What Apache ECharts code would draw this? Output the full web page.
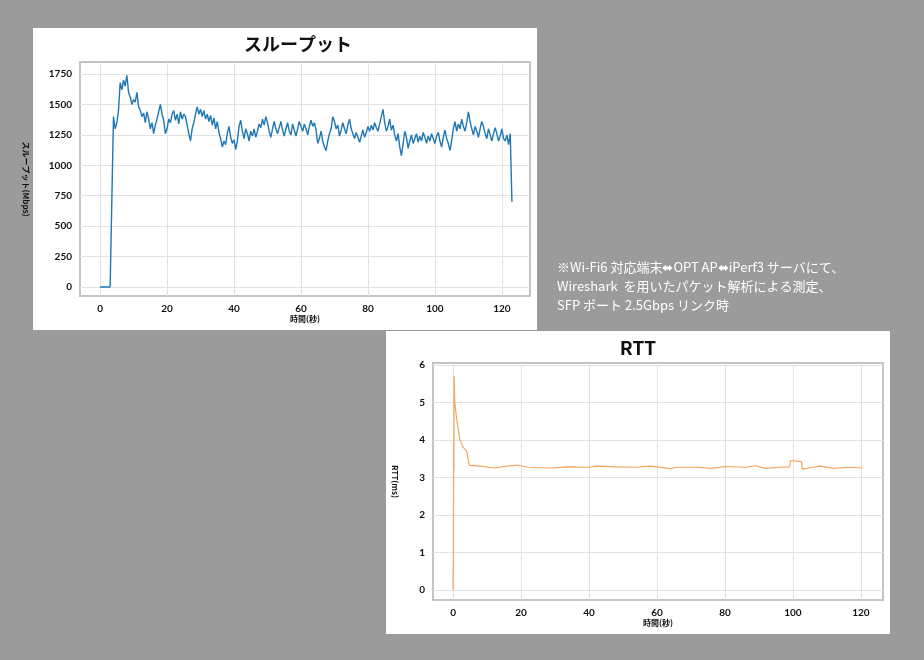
<!DOCTYPE html>
<html>
<head>
<meta charset="utf-8">
<script src="https://cdn.jsdelivr.net/npm/echarts@6/dist/echarts.min.js"></script>
<style>html,body{margin:0;padding:0;background:#9b9b9b}#main{width:924px;height:660px}</style>
</head>
<body>
<div id="main"></div>
<script>
// スループット: 0.5秒刻み
var tpStep = 0.5;
var tpValues = [
  0,0,0,0,0,0,0,700,1400,1300,
  1350,1450,1680,1620,1700,1650,1740,1600,1560,1500,
  1540,1520,1600,1480,1450,1400,1430,1350,1440,1380,
  1300,1350,1260,1330,1380,1440,1500,1420,1370,1260,
  1300,1380,1350,1420,1450,1370,1420,1340,1440,1380,
  1420,1400,1330,1260,1200,1300,1350,1420,1480,1420,
  1460,1400,1450,1380,1420,1360,1410,1330,1390,1300,
  1360,1270,1220,1150,1200,1170,1260,1320,1230,1180,
  1210,1130,1200,1320,1370,1280,1220,1300,1260,1200,
  1280,1240,1300,1230,1280,1340,1310,1380,1330,1400,
  1350,1280,1230,1300,1360,1300,1260,1310,1360,1290,
  1240,1300,1350,1280,1250,1340,1290,1240,1300,1360,
  1320,1280,1340,1300,1250,1320,1370,1320,1350,1290,
  1180,1220,1280,1200,1150,1120,1200,1260,1300,1400,
  1360,1300,1330,1240,1290,1350,1300,1260,1330,1380,
  1300,1260,1220,1270,1230,1190,1240,1290,1230,1270,
  1320,1280,1330,1290,1350,1310,1280,1340,1400,1460,
  1350,1280,1320,1380,1290,1330,1250,1200,1260,1150,
  1080,1180,1280,1230,1140,1200,1250,1180,1220,1260,
  1190,1240,1200,1270,1230,1180,1240,1200,1260,1220,
  1180,1240,1270,1200,1150,1230,1290,1220,1180,1120,
  1200,1300,1360,1280,1340,1300,1380,1320,1280,1350,
  1440,1360,1300,1250,1320,1280,1230,1300,1360,1320,
  1260,1220,1300,1250,1200,1260,1310,1260,1200,1240,
  1300,1220,1200,1250,1170,1260,700
];
var rttTime = [0,0.1,0.2,0.25,0.3,0.35,0.5,1,1.5,2,3,4,4.3,4.8,8,12,16,19,22,28,34,40,42,48,54,58,62,64,66,72,76,80,86,89,92,96,99,99.3,102.5,102.8,106,108,112,116,120.5];
var rttValues = [0,1.3,3.9,3.2,5.7,5.6,5.0,4.6,4.3,4.0,3.8,3.7,3.75,3.32,3.3,3.25,3.3,3.33,3.27,3.25,3.28,3.27,3.3,3.28,3.27,3.3,3.26,3.23,3.27,3.27,3.24,3.29,3.27,3.31,3.24,3.27,3.28,3.45,3.42,3.22,3.27,3.3,3.24,3.27,3.25];

var xTicks = [0,20,40,60,80,100,120];
var tpTicks = [0,250,500,750,1000,1250,1500,1750];
var rttTicks = [0,1,2,3,4,5,6];

var tpData = tpValues.map(function (v, i) { return [i * tpStep, v]; });
var rttData = rttTime.map(function (t, i) { return [t, rttValues[i]]; });

var chart = echarts.init(document.getElementById('main'));
var lbl = { color: '#111', fontSize: 10, fontWeight: 'bold', fontFamily: 'Lato', formatter: function (v) { return String(v); } };
var split = { show: true, lineStyle: { color: '#e2e2e2' } };
function xAxis(idx, min, max) {
  return {
    gridIndex: idx, type: 'value', min: min, max: max,
    name: '時間(秒)', nameLocation: 'middle', nameGap: 18,
    nameTextStyle: { fontSize: 8, fontWeight: 'bold', color: '#111', fontFamily: 'Noto Sans CJK JP' },
    axisLine: { show: false }, axisTick: { show: false, customValues: xTicks },
    axisLabel: Object.assign({ customValues: xTicks }, lbl), splitLine: split
  };
}
function yAxis(idx, min, max, ticks, name) {
  return {
    gridIndex: idx, type: 'value', min: min, max: max,
    name: name, nameLocation: 'middle', nameGap: idx === 0 ? 50 : 34, nameRotate: -90,
    nameTextStyle: { fontSize: 8, fontWeight: 'bold', color: '#111', fontFamily: 'Noto Sans CJK JP' },
    axisLine: { show: false }, axisTick: { show: false, customValues: ticks },
    axisLabel: Object.assign({ customValues: ticks }, lbl), splitLine: split
  };
}
chart.setOption({
  backgroundColor: '#9b9b9b',
  animation: false,
  graphic: [
    { type: 'rect', shape: { x: 33, y: 28, width: 504, height: 302 }, style: { fill: '#fff' }, z: -10 },
    { type: 'rect', shape: { x: 386, y: 331, width: 504, height: 303 }, style: { fill: '#fff' }, z: -10 },
    { type: 'text', x: 298, y: 44, style: { text: 'スループット', fill: '#111', font: 'bold 18px "Noto Sans CJK JP"', textAlign: 'center', textVerticalAlign: 'middle' } },
    { type: 'text', x: 638, y: 348, style: { text: 'RTT', fill: '#111', font: 'bold 19px "Noto Sans CJK JP"', textAlign: 'center', textVerticalAlign: 'middle' } },
    { type: 'text', x: 557, y: 258, style: { text: '※Wi-Fi6 対応端末⬌OPT AP⬌iPerf3 サーバにて、\nWireshark  を用いたパケット解析による測定、\nSFP ポート 2.5Gbps リンク時', fill: '#fff', font: '13px "Noto Sans CJK JP"', lineHeight: 19 } }
  ],
  grid: [
    { left: 80, top: 62, width: 450, height: 234, show: true, borderColor: '#c4c4c4', borderWidth: 2 },
    { left: 433, top: 363, width: 450, height: 237, show: true, borderColor: '#c4c4c4', borderWidth: 2 }
  ],
  xAxis: [xAxis(0, -6, 128.4), xAxis(1, -5.9, 126.5)],
  yAxis: [yAxis(0, -74, 1849, tpTicks, 'スループット(Mbps)'), yAxis(1, -0.27, 6.05, rttTicks, 'RTT(ms)')],
  series: [
    { type: 'line', xAxisIndex: 0, yAxisIndex: 0, data: tpData, showSymbol: false, lineStyle: { color: '#1f78b4', width: 1.4 } },
    { type: 'line', xAxisIndex: 1, yAxisIndex: 1, data: rttData, showSymbol: false, lineStyle: { color: '#f5a45c', width: 1.2 } }
  ]
});
</script>
</body>
</html>
